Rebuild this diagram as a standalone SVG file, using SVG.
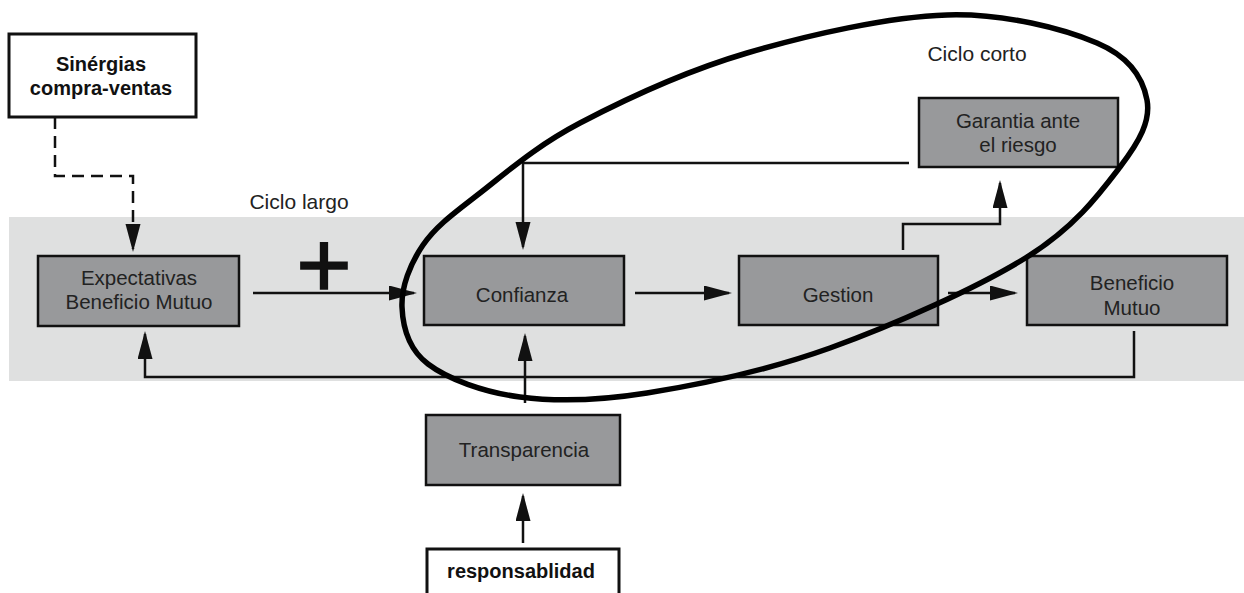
<svg xmlns="http://www.w3.org/2000/svg" width="1244" height="593" viewBox="0 0 1244 593">
<style>
.box{fill:#98999b;stroke:#111;stroke-width:2.5}
.wbox{fill:#fff;stroke:#111;stroke-width:3}
.t{font-family:"Liberation Sans",Arial,sans-serif;font-size:20.5px;fill:#222;text-anchor:middle}
.tb{font-family:"Liberation Sans",Arial,sans-serif;font-size:20px;font-weight:bold;fill:#111;text-anchor:middle}
.lbl{font-family:"Liberation Sans",Arial,sans-serif;font-size:21px;fill:#222;text-anchor:middle}
.c{fill:none;stroke:#111;stroke-width:2.5;marker-end:url(#ah)}
</style>
<defs>
<marker id="ah" markerUnits="userSpaceOnUse" markerWidth="30" markerHeight="16" refX="25" refY="7.5" orient="auto">
<path d="M0,0 L28,7.5 L0,15 Z" fill="#111"/>
</marker>
</defs>
<rect id="band" x="9" y="217" width="1235" height="164" fill="#dfe0e0"/>
<text class="lbl" x="299" y="209">Ciclo largo</text>
<text class="lbl" x="977" y="61">Ciclo corto</text>
<g id="connectors">
<path class="c" d="M55,117 V176 H133 V249" stroke-dasharray="12 7"/>
<path class="c" d="M253,293 H414"/>
<path class="c" d="M635,293 H729"/>
<path class="c" d="M948,293 H1015"/>
<path class="c" d="M903,250 V224 H1000 V183"/>
<path class="c" d="M909,163 H523 V247"/>
<path class="c" d="M1134,331 V377 H145 V334"/>
<path class="c" d="M525,403 V336"/>
<path class="c" d="M523,543 V496"/>
</g>
<text id="plus" x="324" y="297" font-family="Liberation Sans, Arial, sans-serif" font-size="95" text-anchor="middle" fill="#111" stroke="#111" stroke-width="1.5">+</text>
<g id="sinergias">
<rect class="wbox" x="9" y="34" width="187" height="83"/>
<text class="tb" x="101" y="71">Sinérgias</text>
<text class="tb" x="101" y="95">compra-ventas</text>
</g>
<g id="expectativas">
<rect class="box" x="38" y="256" width="201" height="70"/>
<text class="t" x="139" y="285">Expectativas</text>
<text class="t" x="139" y="309">Beneficio Mutuo</text>
</g>
<g id="confianza">
<rect class="box" x="424" y="256" width="200" height="69"/>
<text class="t" x="522" y="302">Confianza</text>
</g>
<g id="gestion">
<rect class="box" x="739" y="256" width="199" height="69"/>
<text class="t" x="838" y="302">Gestion</text>
</g>
<g id="beneficio">
<rect class="box" x="1027" y="256" width="200" height="69"/>
<text class="t" x="1132" y="290">Beneficio</text>
<text class="t" x="1132" y="315">Mutuo</text>
</g>
<g id="garantia">
<rect class="box" x="919" y="98" width="199" height="69"/>
<text class="t" x="1018" y="128">Garantia ante</text>
<text class="t" x="1018" y="152">el riesgo</text>
</g>
<g id="transparencia">
<rect class="box" x="426" y="415" width="194" height="70"/>
<text class="t" x="524" y="457">Transparencia</text>
</g>
<g id="responsablidad">
<rect class="wbox" x="427" y="549" width="192" height="60"/>
<text class="tb" x="521" y="578">responsablidad</text>
</g>
<path id="ciclo-corto" fill="none" stroke="#000" stroke-width="5.5" d="M402,307 C401.2,287.2 410,264 423,245 C436,226 453.8,213.3 480,193 C506.2,172.7 535.5,146.3 580,123 C624.5,99.7 685.8,71 747,53 C808.2,35 888.7,16.7 947,15 C1005.3,13.3 1063.7,28.8 1097,43 C1130.3,57.2 1143.2,79.3 1147,100 C1150.8,120.7 1140,140.8 1120,167 C1100,193.2 1075.3,226.8 1027,257 C978.7,287.2 893.3,325.3 830,348 C766.7,370.7 698.7,384.8 647,393 C595.3,401.2 556.5,401.8 520,397 C483.5,392.2 447.7,379 428,364 C408.3,349 402.8,326.8 402,307 Z"/>
</svg>
